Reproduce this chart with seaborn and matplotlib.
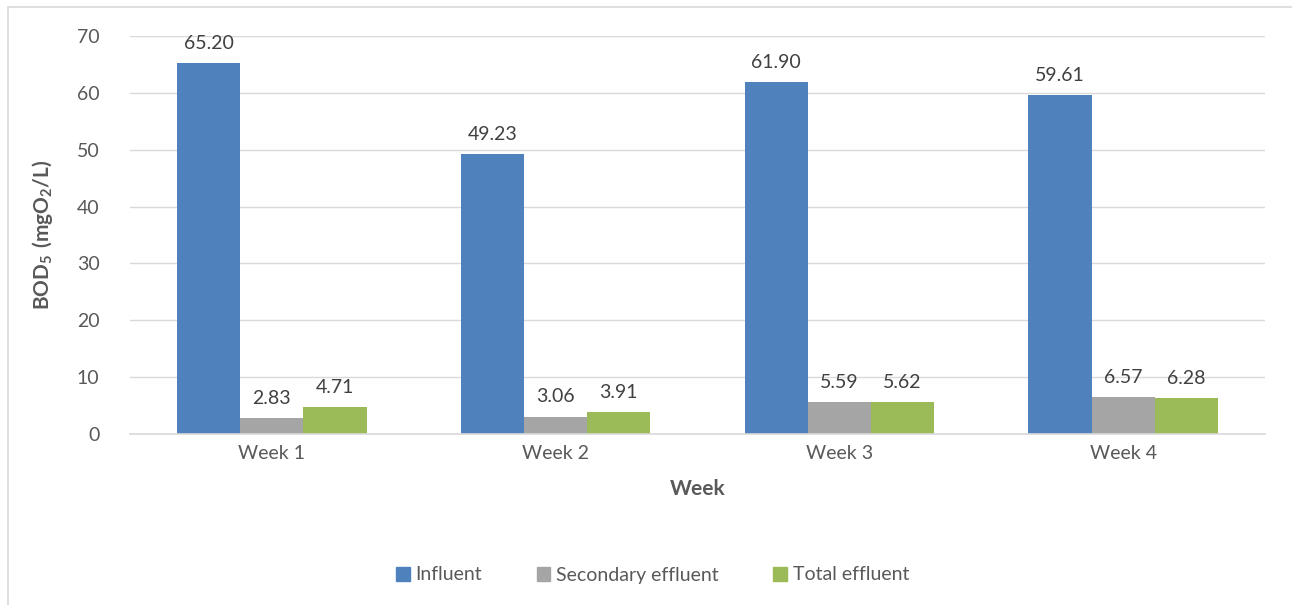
import matplotlib
matplotlib.use("Agg")
import matplotlib.pyplot as plt
import matplotlib.patches as mpatches
import seaborn as sns
import pandas as pd

weeks = ["Week 1", "Week 2", "Week 3", "Week 4"]
series = ["Influent", "Secondary effluent", "Total effluent"]
influent = [65.20, 49.23, 61.90, 59.61]
secondary = [2.83, 3.06, 5.59, 6.57]
total = [4.71, 3.91, 5.62, 6.28]
colors = ["#4F81BD", "#A5A5A5", "#9BBB59"]

df = pd.DataFrame({
    "Week": weeks * 3,
    "Series": [s for s in series for _ in weeks],
    "BOD": influent + secondary + total,
})

sns.set_style("white")
plt.rcParams["font.family"] = ["Lato", "DejaVu Sans"]
plt.rcParams["mathtext.fontset"] = "custom"
plt.rcParams["mathtext.rm"] = "Lato"
plt.rcParams["mathtext.bf"] = "Lato:bold"
text_col = "#595959"

fig = plt.figure(figsize=(12.92, 6.05), dpi=100)
ax = fig.add_axes([130 / 1292, 1 - 434 / 605, (1265 - 130) / 1292, (434 - 36) / 605])

sns.barplot(data=df, x="Week", y="BOD", hue="Series", palette=colors,
            width=0.667, saturation=1, linewidth=0, ax=ax, legend=False)

for c in ax.containers:
    ax.bar_label(c, fmt="%.2f", padding=8, fontsize=14, color="#404040")

ax.set_ylim(0, 70)
ax.set_xlim(-0.5, 3.5)
ax.set_yticks(range(0, 71, 10))
ax.grid(axis="y", color="#D9D9D9", linewidth=1)
ax.set_axisbelow(True)
for s in ["top", "right", "left"]:
    ax.spines[s].set_visible(False)
ax.spines["bottom"].set_color("#D9D9D9")
ax.spines["bottom"].set_linewidth(1.2)
ax.tick_params(axis="both", length=0, labelsize=14, labelcolor=text_col)
ax.tick_params(axis="y", pad=22)
ax.tick_params(axis="x", pad=8)

ax.set_xlabel("Week", fontsize=15, fontweight="bold", color=text_col, labelpad=12)
ax.set_ylabel(r"$\mathbf{BOD_5\ (mgO_2/L)}$", fontsize=15, color=text_col)
ax.yaxis.set_label_coords(-75 / 1135, 0.5)

handles = [mpatches.Patch(color=c, label=s) for c, s in zip(colors, series)]
fig.legend(handles=handles, loc="center", bbox_to_anchor=(0.505, 1 - 575 / 605), ncol=3,
           frameon=False, fontsize=14, labelcolor=text_col, handlelength=0.7,
           handleheight=0.7, handletextpad=0.3, columnspacing=2.8)

fig.patches.append(mpatches.Rectangle((8 / 1292, -0.1), 1.2, 1 - 7 / 605 + 0.1,
                                      transform=fig.transFigure, fill=False,
                                      edgecolor="#D9D9D9", linewidth=1.2))

fig.savefig("out.png", dpi=100)
